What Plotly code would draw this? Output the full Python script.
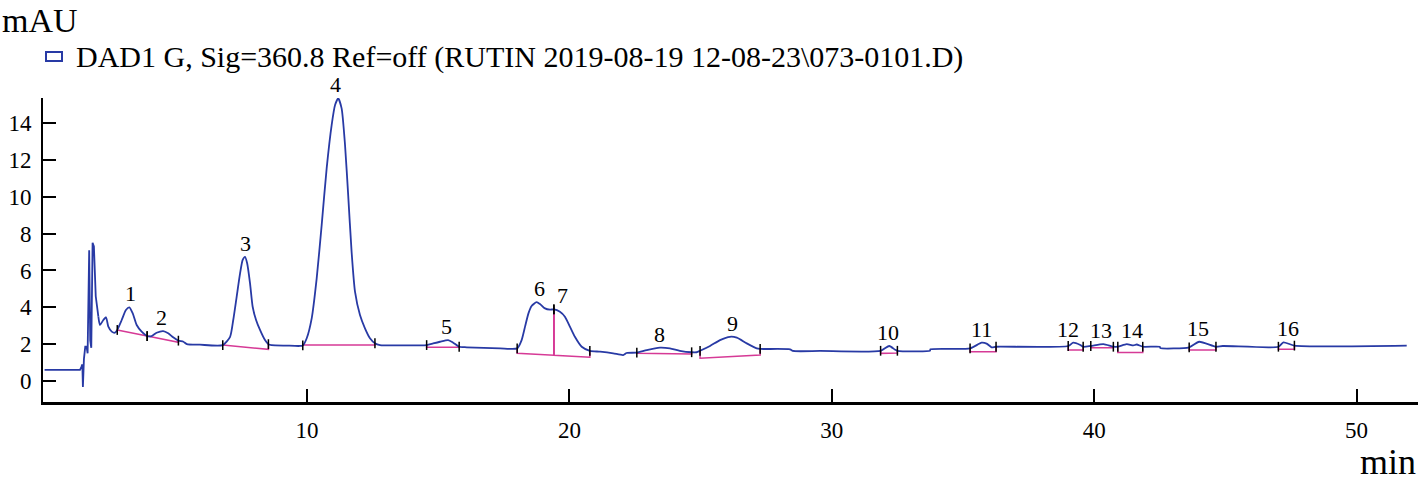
import plotly.graph_objects as go

# ---------------- data ----------------
time_min = [0.00, 1.35, 1.40, 1.44, 1.46, 1.50, 1.55, 1.60, 1.64, 1.70, 1.74, 1.78, 1.83, 1.88, 1.95,
            2.05, 2.11, 2.24, 2.34, 2.43, 2.56, 2.68, 2.77, 2.94, 3.10, 3.23, 3.36, 3.51, 3.70, 3.91,
            4.08, 4.27, 4.52, 4.71, 4.90, 5.10, 5.29, 5.42, 5.92, 6.79, 7.07, 7.19, 7.32, 7.45, 7.55,
            7.64, 7.72, 7.83, 7.93, 8.06, 8.21, 8.40, 8.53, 8.65, 9.23, 9.70, 9.84, 9.99, 10.18, 10.37,
            10.56, 10.75, 10.94, 11.07, 11.19, 11.32, 11.45, 11.57, 11.70, 11.83, 12.02, 12.21, 12.40,
            12.59, 12.78, 13.54, 14.56, 14.81, 15.07, 15.38, 15.57, 15.80, 16.09, 17.36, 18.01, 18.18,
            18.31, 18.44, 18.56, 18.75, 18.88, 19.07, 19.26, 19.41, 19.64, 19.83, 20.02, 20.21, 20.47,
            20.78, 21.17, 21.67, 22.05, 22.18, 22.57, 22.95, 23.45, 23.83, 24.21, 24.66, 24.85, 24.98,
            25.36, 25.74, 26.12, 26.38, 26.76, 27.14, 27.27, 28.41, 28.53, 29.55, 31.86, 32.19, 32.41,
            32.50, 33.74, 33.76, 35.27, 35.71, 35.90, 36.09, 36.26, 39.01, 39.20, 39.45, 39.58, 39.87,
            40.35, 40.73, 40.90, 41.24, 41.49, 41.62, 41.85, 42.50, 42.52, 43.62, 44.00, 44.64, 44.90,
            47.02, 47.21, 47.63, 51.91]
signal_mau = [0.60, 0.60, 0.75, 0.90, -0.33, 1.20, 1.86, 1.86, 1.50, 7.10, 2.20, 1.80, 7.50, 7.30, 4.60,
              3.49, 3.04, 3.31, 3.46, 2.95, 2.68, 2.62, 2.77, 3.31, 3.85, 4.00, 3.67, 3.04, 2.68, 2.44,
              2.44, 2.62, 2.71, 2.59, 2.37, 2.19, 2.13, 2.00, 1.97, 1.95, 2.40, 3.31, 4.57, 5.84, 6.57,
              6.74, 6.39, 5.30, 4.03, 3.31, 2.77, 2.22, 2.00, 1.95, 1.92, 1.90, 1.93, 2.32, 3.40, 5.57,
              8.46, 11.54, 13.89, 14.98, 15.34, 14.80, 12.81, 10.09, 7.02, 4.85, 3.58, 2.86, 2.32,
              2.05, 1.95, 1.93, 1.95, 2.04, 2.13, 2.22, 2.08, 1.86, 1.83, 1.77, 1.77, 2.22,
              2.95, 3.67, 4.07, 4.28, 4.18, 3.94, 3.87, 3.89, 3.76, 3.49, 2.95, 2.40, 1.86,
              1.64, 1.59, 1.50, 1.41, 1.52, 1.54, 1.68, 1.81, 1.77, 1.64, 1.56, 1.56, 1.64,
              1.90, 2.22, 2.40, 2.35, 2.04, 1.77, 1.74, 1.72, 1.63, 1.63, 1.64, 1.90, 1.70,
              1.64, 1.64, 1.72, 1.77, 2.08, 2.03, 1.83, 1.86, 1.90, 2.08, 1.97, 1.86, 1.90,
              2.00, 1.86, 1.86, 2.00, 1.93, 1.98, 1.86, 1.86, 1.79, 1.83, 2.13, 1.86, 1.90,
              1.86, 2.10, 1.92, 1.92]

peak_ids = ["1", "2", "3", "4", "5", "6", "7", "8", "9", "10", "11", "12", "13", "14", "15", "16"]
peak_label_time = [3.29, 4.47, 7.64, 11.10, 15.30, 18.88, 19.72, 23.45, 26.20, 32.14, 35.69, 39.02,
                   40.26, 41.44, 43.96, 47.39]
peak_apex_mau = [4.00, 2.71, 6.74, 15.34, 2.22, 4.28, 3.89, 1.81, 2.40, 1.90, 2.08, 2.08, 2.00, 2.00,
                 2.13, 2.10]
# integration limits (trace values at start / end) and baseline values
peak_start_time = [2.77, 3.91, 6.79, 9.84, 14.56, 18.01, 19.41, 22.57, 24.98, 31.86, 35.27, 39.01,
                   39.87, 40.90, 43.62, 47.02]
peak_start_mau = [2.77, 2.44, 1.95, 1.93, 1.95, 1.77, 3.89, 1.54, 1.64, 1.64, 1.77, 1.90, 1.90, 1.86,
                  1.83, 1.86]
peak_end_time = [3.91, 5.10, 8.53, 12.59, 15.80, 19.41, 20.78, 24.66, 27.27, 32.50, 36.26, 39.58,
                 40.73, 41.85, 44.64, 47.63]
peak_end_mau = [2.44, 2.19, 2.00, 2.05, 1.86, 3.89, 1.64, 1.56, 1.74, 1.64, 1.86, 1.86, 1.86, 1.86,
                1.86, 1.92]
base_start_mau = [2.77, 2.44, 1.95, 1.95, 1.83, 1.50, 1.40, 1.50, 1.23, 1.50, 1.59, 1.68, 1.81, 1.54,
                  1.68, 1.72]
base_end_mau = [2.44, 2.10, 1.72, 1.95, 1.83, 1.40, 1.29, 1.47, 1.41, 1.52, 1.59, 1.68, 1.81, 1.54,
                1.68, 1.72]

x_ticks = [10, 20, 30, 40, 50]
y_ticks = [0, 2, 4, 6, 8, 10, 12, 14]
legend_text = "DAD1 G, Sig=360.8 Ref=off (RUTIN 2019-08-19 12-08-23\\073-0101.D)"

# ---------------- styling ----------------
W, H = 1418, 485
L, R, T, B = 43, 0, 98, 83
PW, PH = W - L - R, H - T - B
BLUE = "rgb(40,58,165)"
MAGENTA = "rgb(214,58,150)"
FONT = "Liberation Serif"


def px(xp):
    return (xp - L) / PW


def py(yp):
    return (H - B - yp) / PH


fig = go.Figure()

# integration baselines (magenta)
bx, by = [], []
for i in range(len(peak_ids)):
    if i == 6:  # peak 7 shares the split drop line with peak 6
        bx += [peak_start_time[i], peak_start_time[i], None]
        by += [base_start_mau[i], peak_start_mau[i] + 0.1, None]
    bx += [peak_start_time[i], peak_start_time[i], peak_end_time[i], peak_end_time[i], None]
    by += [peak_start_mau[i], base_start_mau[i], base_end_mau[i], peak_end_mau[i], None]
fig.add_trace(go.Scatter(x=bx, y=by, mode="lines", line=dict(color=MAGENTA, width=1.5),
                         hoverinfo="skip", showlegend=False))

# signal: the solvent front (first points) drawn straight, the rest smoothed
n_front = 16
fig.add_trace(go.Scatter(x=time_min[:n_front], y=signal_mau[:n_front], mode="lines",
                         line=dict(color=BLUE, width=1.8), showlegend=False))
fig.add_trace(go.Scatter(x=time_min[n_front - 1:], y=signal_mau[n_front - 1:], mode="lines",
                         line=dict(color=BLUE, width=1.8, shape="spline", smoothing=0.6),
                         showlegend=False))

# start / end tick marks (black)
tx = peak_start_time + peak_end_time
ty = peak_start_mau + peak_end_mau
fig.add_trace(go.Scatter(x=tx, y=ty, mode="markers",
                         marker=dict(symbol="line-ns", size=7, line=dict(color="black", width=1.5)),
                         hoverinfo="skip", showlegend=False))

annotations = []
for lab, xt, ya in zip(peak_ids, peak_label_time, peak_apex_mau):
    annotations.append(dict(x=xt, y=ya, text=lab, showarrow=False, xref="x", yref="y",
                            yanchor="bottom", yshift=-1,
                            font=dict(family=FONT, size=22, color="black")))

annotations += [
    dict(x=px(0), y=py(20), xref="paper", yref="paper", text="mAU", showarrow=False,
         xanchor="left", yanchor="middle", font=dict(family=FONT, size=34, color="black")),
    dict(x=px(74), y=py(57), xref="paper", yref="paper", text=legend_text, showarrow=False,
         xanchor="left", yanchor="middle", font=dict(family=FONT, size=30, color="black")),
    dict(x=px(1418), y=py(462), xref="paper", yref="paper", text="min", showarrow=False,
         xanchor="right", yanchor="middle", font=dict(family=FONT, size=36, color="black")),
]

shapes = [dict(type="rect", xref="paper", yref="paper", x0=px(46), x1=px(62), y0=py(61), y1=py(52),
               line=dict(color=BLUE, width=2), fillcolor="white")]

fig.update_layout(
    width=W, height=H, margin=dict(l=L, r=R, t=T, b=B, pad=0),
    plot_bgcolor="white", paper_bgcolor="white",
    annotations=annotations, shapes=shapes, showlegend=False,
    xaxis=dict(range=[-0.06, 52.34], tickvals=x_ticks, ticks="inside", ticklen=13, tickwidth=2,
               tickcolor="black", showline=True, linecolor="black", linewidth=3, showgrid=False,
               zeroline=False, ticklabelstandoff=5,
               tickfont=dict(family=FONT, size=23, color="black")),
    yaxis=dict(range=[-1.14, 15.36], tickvals=y_ticks, ticks="inside", ticklen=13, tickwidth=2,
               tickcolor="black", showline=True, linecolor="black", linewidth=2, showgrid=False,
               zeroline=False, ticklabelstandoff=5,
               tickfont=dict(family=FONT, size=23, color="black")),
)

fig.write_html("out.html", post_script="document.body.style.margin='0';",
               config={"displayModeBar": False})
